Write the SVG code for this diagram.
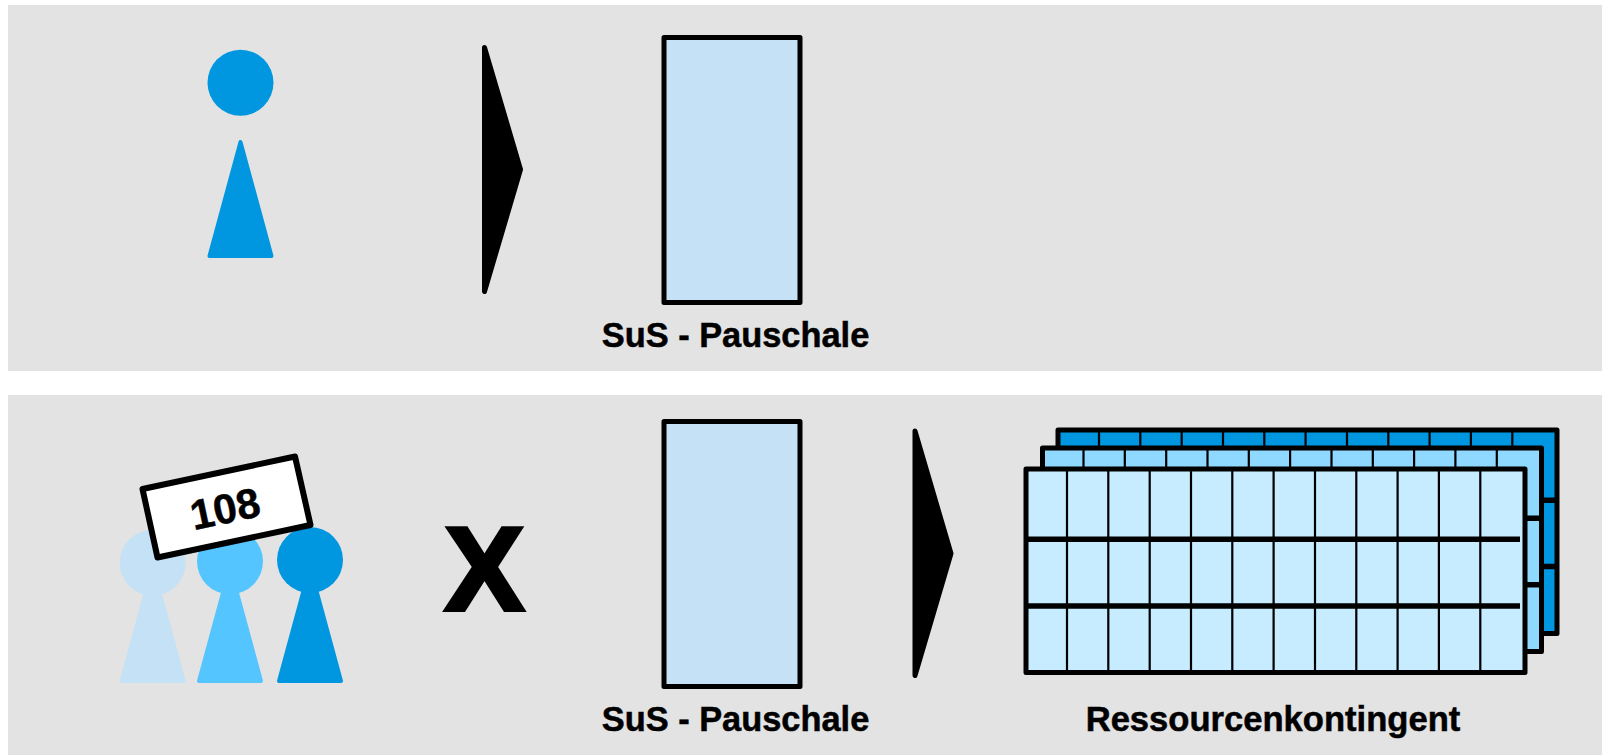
<svg xmlns="http://www.w3.org/2000/svg" width="1602" height="755" viewBox="0 0 1602 755">
<style>
.panel{fill:#e3e3e3}
.lbl{font-family:"Liberation Sans",Arial,sans-serif;font-weight:700;fill:#000;text-anchor:middle}
.cap{stroke:#000;stroke-width:.5}
.body{stroke-width:4;stroke-linejoin:round}
.pause{fill:#c5e1f6;stroke:#000;stroke-width:5;stroke-linejoin:round}
.arrow{fill:#000;stroke:#000;stroke-width:5;stroke-linejoin:round}
.dark{fill:#0096e0;stroke:#0096e0}
.mid{fill:#55c5ff;stroke:#55c5ff}
.light{fill:#c5e1f6;stroke:#c5e1f6}
.fr{stroke:#000;stroke-width:5;stroke-linejoin:round}
.h{stroke:#000;stroke-width:5.5;fill:none}
.v{stroke:#000;stroke-width:2.2;fill:none}
</style>
<defs>
<circle id="head" r="33" stroke="none"/>
<path id="torso" class="body" d="M0,2 L-31,116 H31 Z"/>
<path id="cols" class="v" d="M41,0V203M82.300,0V203M123.700,0V203M165,0V203M206.300,0V203M247.600,0V203M289,0V203M330.300,0V203M371.600,0V203M412.900,0V203M454.300,0V203"/>
<rect id="frame" class="fr" width="499" height="203.500"/>
</defs>
<rect id="panel-top" class="panel" x="8" y="5" width="1594" height="366"/>
<rect id="panel-bottom" class="panel" x="8" y="395" width="1594" height="360"/>
<g id="person-top" class="dark"><use href="#head" x="240.500" y="82.700"/><use href="#torso" x="240.500" y="140"/></g>
<g id="arrow-top"><path class="arrow" d="M484.500,47.500 L520.500,169.500 L484.500,291.500 Z"/></g>
<g id="pauschale-top"><rect class="pause" x="664" y="37.500" width="136" height="265"/>
<text class="lbl cap" x="735.500" y="347" font-size="34.400">SuS - Pauschale</text></g>
<g id="people">
<g class="light"><use href="#head" x="152.700" y="562.700"/><use href="#torso" x="152.700" y="565"/></g>
<g class="mid"><use href="#head" x="230" y="561.300"/><use href="#torso" x="230" y="565"/></g>
<g class="dark"><use href="#head" x="310" y="560"/><use href="#torso" x="310" y="565"/></g>
</g>
<g id="sign"><path fill="#fff" stroke="#000" stroke-width="6" stroke-linejoin="round" d="M142.500,489 L295,456.500 L310.500,525 L157.500,557.500 Z"/>
<text class="lbl" font-size="42" stroke="#000" stroke-width=".5" transform="translate(228,523) rotate(-11.900)">108</text></g>
<g id="times"><text class="lbl" x="484.500" y="610" font-size="119" stroke="#000" stroke-width="4">X</text></g>
<g id="arrow-bottom"><path class="arrow" d="M915,431 L951,553.500 L915,675.500 Z"/></g>
<g id="pauschale-bottom"><rect class="pause" x="664" y="421.500" width="136" height="265"/>
<text class="lbl cap" x="735.500" y="731" font-size="34.400">SuS - Pauschale</text></g>
<g id="ressourcen">
<g fill="#0096e0" transform="translate(1058,430)"><use href="#frame"/><use href="#cols"/><path class="h" d="M0,70.300H499M0,136.500H499"/></g>
<g fill="#8fd8ff" transform="translate(1042.500,448)"><use href="#frame"/><use href="#cols"/><path class="h" d="M0,70.300H499M0,136.800H499"/></g>
<g fill="#c7ebff" transform="translate(1026,469)"><use href="#frame"/><use href="#cols"/><path class="h" d="M0,70.300H494M0,137H494"/></g>
<text class="lbl cap" x="1273" y="731" font-size="34.600">Ressourcenkontingent</text>
</g>
</svg>
